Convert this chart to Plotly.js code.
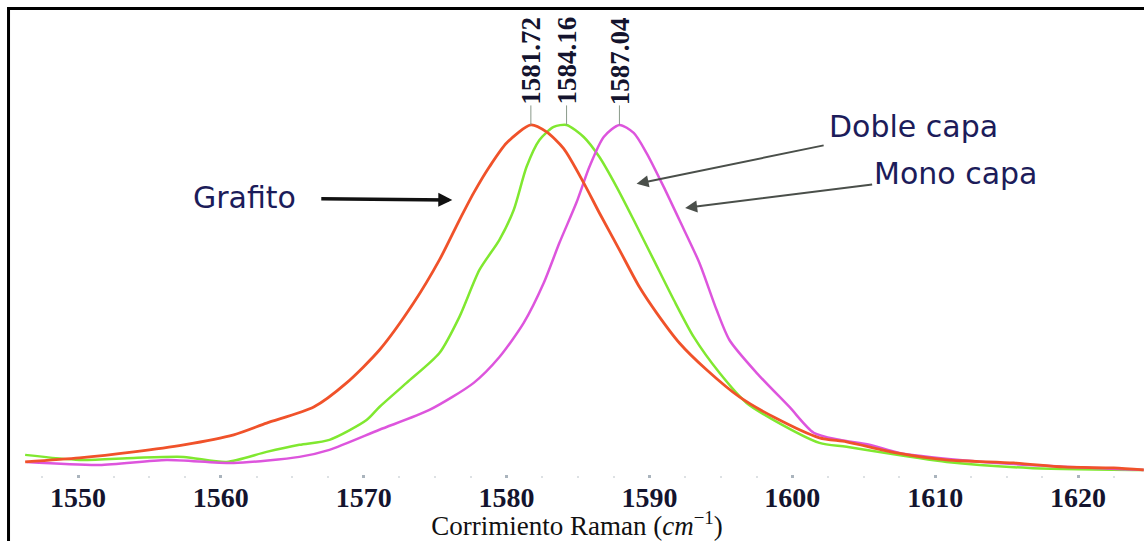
<!DOCTYPE html>
<html>
<head>
<meta charset="utf-8">
<script src="https://cdn.plot.ly/plotly-3.0.1.min.js"></script>
<style>
html,body{margin:0;padding:0;background:#fff;}
#chart{width:1144px;height:541px;}
</style>
</head>
<body>
<div id="chart"></div>
<script>
// Wavenumbers (cm^-1) and relative intensities
const grafitoX = [1546.3,1550.1,1553.9,1557.4,1560.9,1563.2,1566.5,1568.8,1571.1,1573.5,1575.3,1576.7,1577.7,1578.8,1580.0,1581.7,1582.8,1584.0,1585.4,1586.5,1587.9,1589.3,1590.5,1592.1,1594.0,1596.3,1598.7,1601.9,1603.8,1607.3,1610.8,1615.5,1619.0,1622.5,1624.6];
const grafitoY = [0.000,0.012,0.030,0.051,0.081,0.116,0.164,0.236,0.334,0.475,0.603,0.722,0.803,0.881,0.952,1.006,0.985,0.935,0.833,0.743,0.633,0.522,0.445,0.355,0.275,0.194,0.134,0.072,0.060,0.027,0.006,-0.003,-0.015,-0.018,-0.024];

const dobleX = [1546.3,1550.1,1553.9,1557.4,1560.4,1563.2,1565.5,1567.6,1570.2,1571.1,1573.0,1575.3,1576.7,1578.1,1579.5,1580.5,1581.4,1582.3,1583.3,1584.2,1585.4,1586.5,1587.7,1588.9,1590.3,1591.7,1593.1,1594.9,1596.8,1598.7,1601.9,1603.8,1610.8,1616.6,1624.6];
const dobleY = [0.021,0.006,0.012,0.015,0.000,0.030,0.051,0.066,0.125,0.164,0.236,0.325,0.433,0.573,0.663,0.752,0.881,0.961,1.000,1.006,0.970,0.910,0.821,0.722,0.603,0.484,0.373,0.266,0.176,0.125,0.057,0.045,0.000,-0.018,-0.024];

const monoX = [1546.4,1551.5,1556.2,1560.9,1565.5,1567.6,1571.1,1574.6,1577.7,1579.5,1581.2,1582.6,1583.7,1584.9,1585.8,1586.8,1587.9,1588.9,1589.8,1591.0,1592.1,1593.5,1594.7,1595.6,1597.5,1599.8,1601.5,1603.3,1605.4,1607.5,1611.7,1616.6,1624.6];
const monoY = [0.000,-0.009,0.006,-0.003,0.015,0.036,0.096,0.155,0.236,0.313,0.415,0.534,0.654,0.775,0.881,0.970,1.006,0.982,0.922,0.821,0.722,0.594,0.454,0.364,0.266,0.164,0.087,0.066,0.051,0.027,0.006,-0.009,-0.024];

const peakLabels = ['1581.72','1584.16','1587.04'];
const tickVals = [1550,1560,1570,1580,1590,1600,1610,1620];
const tickText = ['1550','1560','1570','1580','1590','1600','1610','1620'];

const COL_G = '#f0522a', COL_D = '#80e830', COL_M = '#dd55dd';

const traces = [
  {x: dobleX, y: dobleY, mode:'lines', line:{color:COL_D, width:2.5, shape:'spline', smoothing:0.7}, hoverinfo:'skip'},
  {x: monoX, y: monoY, mode:'lines', line:{color:COL_M, width:2.5, shape:'spline', smoothing:0.7}, hoverinfo:'skip'},
  {x: grafitoX, y: grafitoY, mode:'lines', line:{color:COL_G, width:2.8, shape:'spline', smoothing:0.7}, hoverinfo:'skip'}
];

function peak(xs, ys){ let k=0; for(let i=1;i<ys.length;i++){ if(ys[i]>ys[k]) k=i; } return [xs[k], ys[k]]; }
const peaks = [peak(grafitoX,grafitoY), peak(dobleX,dobleY), peak(monoX,monoY)];

const serif = '"Liberation Serif", "Times New Roman", serif';
const labelFont = {family:serif, size:27, color:'#14142e'};
const annFont = {family:'"DejaVu Sans", Verdana, sans-serif', size:30, color:'#1c1c5a'};

const annotations = peaks.map((p,i)=>({
  x:p[0], y:p[1], xref:'x', yref:'y', text:'<b>'+peakLabels[i]+'</b>', textangle:-90,
  showarrow:true, arrowhead:0, arrowwidth:1, arrowcolor:'#8a9a8a', ax:0, ay:-64,
  font:labelFont, borderpad:0
}));

annotations.push(
  {x:1576.2, y:0.782, xref:'x', yref:'y', text:'Grafito', font:annFont,
   showarrow:true, arrowhead:2, arrowsize:0.8, arrowwidth:3.5, arrowcolor:'#111', ax:-208, ay:-2, startstandoff:24},
  {x:1589.1, y:0.830, xref:'x', yref:'y', text:'Doble capa', font:annFont,
   showarrow:true, arrowhead:2, arrowsize:1.2, arrowwidth:2, arrowcolor:'#4a4f4a', ax:277, ay:-57, startstandoff:4},
  {x:1592.5, y:0.758, xref:'x', yref:'y', text:'Mono capa', font:annFont,
   showarrow:true, arrowhead:2, arrowsize:1.2, arrowwidth:2, arrowcolor:'#4a4f4a', ax:270, ay:-34, startstandoff:0}
);

const layout = {
  width:1144, height:541,
  margin:{l:10, r:0, t:10, b:63, pad:0},
  paper_bgcolor:'#ffffff', plot_bgcolor:'#ffffff',
  showlegend:false,
  xaxis:{
    range:[1545.24, 1624.62], showgrid:false, zeroline:false, showline:false,
    tickvals:tickVals, ticktext:tickText.map(t=>'<b>'+t+'</b>'), ticks:'inside', ticklen:3, tickwidth:3, tickcolor:'#aab4bd',
    minor:{dtick:2.5, tick0:1550, ticks:'inside', ticklen:2, tickwidth:2, tickcolor:'#dde1e4'},
    tickfont:{family:serif, size:28, color:'#14142e'},
    title:{text:'Corrimiento Raman (<i>cm</i><sup>−1</sup>)', standoff:0,
      font:{family:serif, size:27, color:'#111'}}
  },
  yaxis:{range:[-0.048, 1.349], showgrid:false, zeroline:false, showline:false, showticklabels:false, ticks:''},
  annotations:annotations,
  shapes:[{type:'path', xref:'paper', yref:'paper',
    path:'M -0.0013,-0.3 L -0.0013,1.0032 L 1.1,1.0032', line:{color:'#000', width:3}}]
};

Plotly.newPlot('chart', traces, layout, {staticPlot:true, displayModeBar:false});
</script>
</body>
</html>
